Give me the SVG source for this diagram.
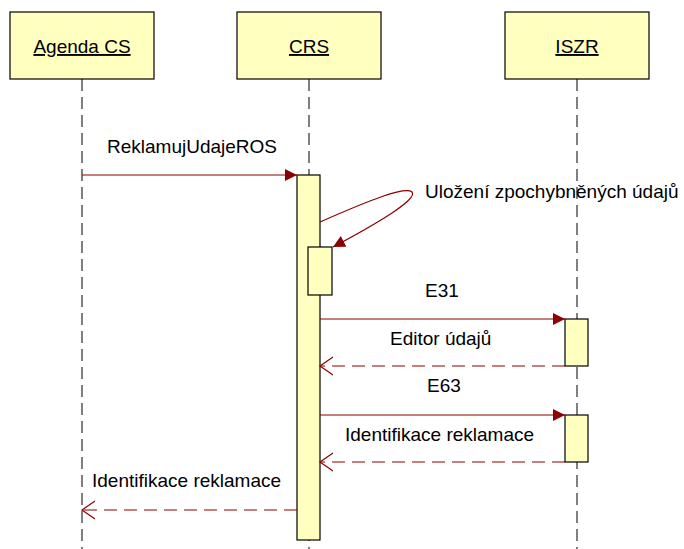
<svg xmlns="http://www.w3.org/2000/svg" width="684" height="549" viewBox="0 0 684 549">
<defs>
<style>
.box{fill:#FFFFC0;stroke:#000;stroke-width:1.2}
.act{fill:#FFFFC0;stroke:#000;stroke-width:1.2}
.life{stroke:#000;stroke-width:1;stroke-dasharray:12 6;fill:none}
.msg{stroke:#8B0000;stroke-width:1.2;fill:none}
.ret{stroke:#8B0000;stroke-width:1.2;fill:none;stroke-dasharray:13 7}
text{font-family:"Liberation Sans",Arial,sans-serif;font-size:19px;fill:#000}
.hdr{text-anchor:middle;text-decoration:underline}
</style>
<marker id="fill" markerUnits="userSpaceOnUse" markerWidth="14" markerHeight="14" refX="12" refY="6" orient="auto">
<path d="M0,0 L12,6 L0,12 Z" fill="#8B0000"/>
</marker>
<marker id="open" markerUnits="userSpaceOnUse" markerWidth="16" markerHeight="20" refX="13" refY="10" orient="auto">
<path d="M0,1 L13,10 L0,19" fill="none" stroke="#8B0000" stroke-width="1.2"/>
</marker>
</defs>
<g id="lifelines">
<line class="life" x1="82" y1="79" x2="82" y2="549"/>
<line class="life" x1="309" y1="79" x2="309" y2="549"/>
<line class="life" x1="577" y1="79" x2="577" y2="549"/>
</g>
<g id="agenda">
<rect class="box" x="10" y="12" width="144" height="67"/>
<text class="hdr" x="82" y="53">Agenda CS</text>
</g>
<g id="crs">
<rect class="box" x="237" y="12" width="144" height="67"/>
<text class="hdr" x="309" y="53">CRS</text>
<rect class="act" x="297" y="175" width="23" height="365"/>
<rect class="act" x="308" y="247" width="24" height="48"/>
</g>
<g id="iszr">
<rect class="box" x="505" y="12" width="144" height="67"/>
<text class="hdr" x="577" y="53">ISZR</text>
<rect class="act" x="565" y="319" width="23" height="47"/>
<rect class="act" x="565" y="415" width="23" height="47"/>
</g>
<g id="connectors">
<line class="msg" x1="82" y1="175" x2="297" y2="175" marker-end="url(#fill)"/>
<path class="msg" d="M320,222 C370,200 405,186 412,192 C418,199 380,222 333,247" marker-end="url(#fill)"/>
<line class="msg" x1="320" y1="319" x2="565" y2="319" marker-end="url(#fill)"/>
<line class="ret" x1="565" y1="366" x2="320" y2="366" marker-end="url(#open)"/>
<line class="msg" x1="320" y1="415" x2="565" y2="415" marker-end="url(#fill)"/>
<line class="ret" x1="565" y1="462" x2="320" y2="462" marker-end="url(#open)"/>
<line class="ret" x1="297" y1="510" x2="82" y2="510" marker-end="url(#open)"/>
</g>
<g id="labels">
<text x="107" y="153">ReklamujUdajeROS</text>
<text x="425" y="198">Uložení zpochybněných údajů</text>
<text x="425" y="297">E31</text>
<text x="390" y="345">Editor údajů</text>
<text x="427" y="392">E63</text>
<text x="345" y="441">Identifikace reklamace</text>
<text x="92" y="487">Identifikace reklamace</text>
</g>
</svg>
